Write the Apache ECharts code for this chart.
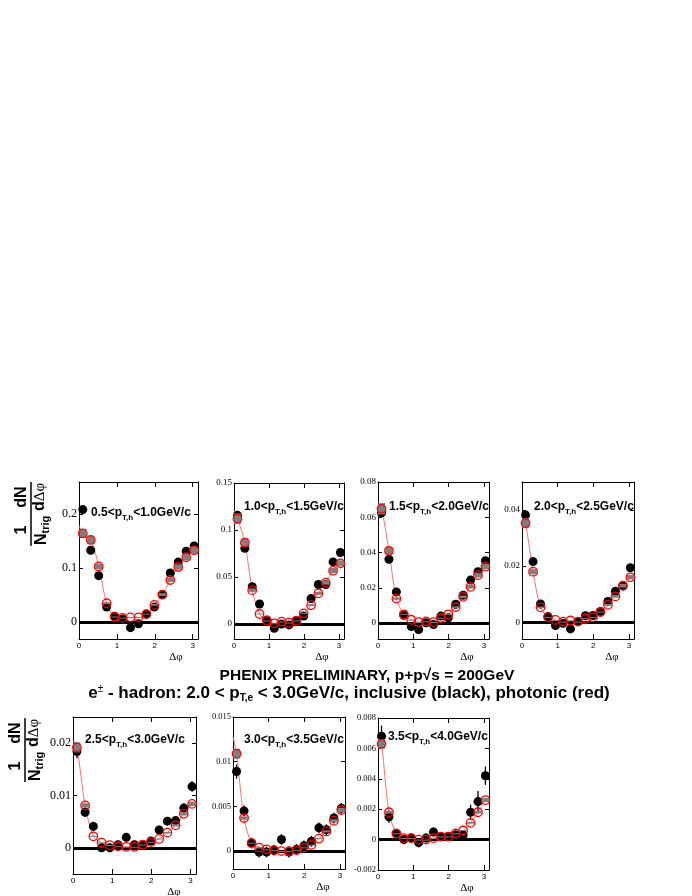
<!DOCTYPE html>
<html>
<head>
<meta charset="utf-8">
<script src="https://cdn.jsdelivr.net/npm/echarts@6/dist/echarts.min.js"></script>
<style>
  html, body { margin: 0; padding: 0; background: #fff; }
  #chart { width: 692px; height: 896px; }
</style>
</head>
<body>
<div id="chart"></div>
<script>
// delta-phi bin centres (15 bins over 0..pi)
const xBins = [0.10, 0.31, 0.52, 0.73, 0.94, 1.15, 1.36, 1.57, 1.78, 1.99, 2.20, 2.41, 2.62, 2.83, 3.04];

// trigger-hadron pT bins
const ptLow  = ['0.5', '1.0', '1.5', '2.0', '2.5', '3.0', '3.5'];
const ptHigh = ['1.0', '1.5', '2.0', '2.5', '3.0', '3.5', '4.0'];

// inclusive (black) yields
const incl1 = [0.208, 0.133, 0.086, 0.028, 0.011, 0.006, -0.010, -0.003, 0.015, 0.028, 0.051, 0.091, 0.111, 0.131, 0.141];
const incl2 = [0.1156, 0.0805, 0.0397, 0.0213, 0.0043, -0.0046, 0.0, -0.001, 0.0035, 0.0085, 0.027, 0.042, 0.042, 0.066, 0.076];
const incl3 = [0.0625, 0.0362, 0.0177, 0.0044, -0.0019, -0.0036, 0.0002, -0.0008, 0.004, 0.003, 0.0107, 0.0158, 0.0244, 0.0291, 0.0354];
const incl4 = [0.0382, 0.0216, 0.0065, 0.002, -0.0012, -0.0004, -0.0024, 0.0002, 0.0023, 0.0024, 0.0038, 0.0074, 0.011, 0.013, 0.0194];
const incl5 = [0.0184, 0.0068, 0.0041, 0.0, 0.0, 0.0006, 0.002, 0.0006, 0.0005, 0.0013, 0.0034, 0.0051, 0.0052, 0.0076, 0.0117];
const incl6 = [0.0089, 0.0045, 0.0009, -0.0001, -0.0001, 0.0001, 0.0013, -0.0001, 0.0002, 0.0006, 0.0011, 0.0026, 0.0024, 0.0037, 0.0048];
const incl7 = [0.0068, 0.0015, 0.0004, 0.0, 0.0001, -0.0002, 0.0001, 0.0005, 0.0002, 0.0002, 0.0003, 0.0003, 0.0018, 0.0025, 0.0042];

// inclusive stat errors
const inclErr1 = [0.004, 0.004, 0.004, 0.004, 0.004, 0.004, 0.004, 0.004, 0.004, 0.004, 0.004, 0.004, 0.004, 0.004, 0.004];
const inclErr2 = [0.003, 0.003, 0.003, 0.0025, 0.0025, 0.0025, 0.0025, 0.0025, 0.0025, 0.0025, 0.003, 0.003, 0.003, 0.003, 0.003];
const inclErr3 = [0.002, 0.002, 0.0015, 0.0015, 0.0015, 0.0015, 0.0015, 0.0015, 0.0015, 0.0015, 0.0015, 0.0015, 0.0015, 0.0015, 0.002];
const inclErr4 = [0.0012, 0.001, 0.001, 0.0009, 0.0009, 0.0009, 0.0009, 0.0009, 0.0009, 0.0009, 0.0009, 0.0009, 0.001, 0.001, 0.0012];
const inclErr5 = [0.0013, 0.0009, 0.0009, 0.0008, 0.0008, 0.0008, 0.0008, 0.0008, 0.0008, 0.0008, 0.0008, 0.0008, 0.0008, 0.0009, 0.001];
const inclErr6 = [0.0008, 0.0006, 0.0006, 0.0006, 0.0006, 0.0006, 0.0006, 0.0006, 0.0006, 0.0006, 0.0006, 0.0006, 0.0006, 0.0006, 0.0006];
const inclErr7 = [0.0007, 0.0004, 0.0003, 0.0003, 0.0003, 0.0003, 0.0003, 0.0003, 0.0003, 0.0003, 0.0003, 0.0003, 0.0005, 0.0007, 0.0006];

// photonic (red) yields
const phot1 = [0.164, 0.152, 0.103, 0.035, 0.010, 0.008, 0.009, 0.009, 0.015, 0.032, 0.051, 0.078, 0.102, 0.120, 0.133];
const phot2 = [0.112, 0.0865, 0.036, 0.0106, 0.0035, 0.0007, 0.0025, 0.0014, 0.0035, 0.0113, 0.020, 0.0326, 0.044, 0.0567, 0.0645];
const phot3 = [0.0648, 0.041, 0.0139, 0.005, 0.0019, 0.0006, 0.001, 0.0006, 0.0029, 0.005, 0.0091, 0.0149, 0.0206, 0.0272, 0.032];
const phot4 = [0.0353, 0.018, 0.0053, 0.0018, 0.0008, 0.0002, 0.0006, 0.0002, 0.0014, 0.0018, 0.0036, 0.0062, 0.0092, 0.013, 0.016];
const phot5 = [0.0192, 0.0081, 0.0022, 0.001, 0.0005, 0.0003, 0.0002, 0.0002, 0.0006, 0.0011, 0.0017, 0.0029, 0.0043, 0.0065, 0.0084];
const phot6 = [0.0109, 0.0037, 0.0009, 0.0004, 0.0002, 0.0001, 0.0, 0.0, 0.0001, 0.0004, 0.0007, 0.0014, 0.0022, 0.0034, 0.0046];
const phot7 = [0.0063, 0.0018, 0.0004, 0.0001, 0.0001, 0.0, 0.0, 0.0001, 0.0002, 0.0002, 0.0004, 0.0006, 0.0011, 0.0018, 0.0026];
// relative systematic on photonic (grey boxes), estimated
const photSysFrac = 0.05;

// value of the red fit curve at delta-phi = 0
const fitAtZero = [0.179, 0.121, 0.067, 0.039, 0.0206, 0.0128, 0.007];

// y tick labels per panel
const yTicks = [
  [0, 0.1, 0.2],
  [0, 0.05, 0.1, 0.15],
  [0, 0.02, 0.04, 0.06, 0.08],
  [0, 0.02, 0.04],
  [0, 0.01, 0.02],
  [0, 0.005, 0.01, 0.015],
  [-0.002, 0, 0.002, 0.004, 0.006, 0.008]
];
const xTicks = [0, 1, 2, 3];

const inclAll = [incl1, incl2, incl3, incl4, incl5, incl6, incl7];
const errAll = [inclErr1, inclErr2, inclErr3, inclErr4, inclErr5, inclErr6, inclErr7];
const photAll = [phot1, phot2, phot3, phot4, phot5, phot6, phot7];

// pad layout (pixels) and axis ranges
const pads = [
  { left: 79,  top: 482, width: 119, height: 157, ymin: -0.031, ymax: 0.259, fs: 12 },
  { left: 234, top: 483, width: 110, height: 156, ymin: -0.016, ymax: 0.15,  fs: 9 },
  { left: 378, top: 482, width: 111, height: 157, ymin: -0.009, ymax: 0.08,  fs: 9 },
  { left: 522, top: 482, width: 112, height: 157, ymin: -0.006, ymax: 0.05,  fs: 9 },
  { left: 73,  top: 717, width: 123, height: 157, ymin: -0.005, ymax: 0.025, fs: 12 },
  { left: 233, top: 717, width: 112, height: 152, ymin: -0.002, ymax: 0.015, fs: 8.5 },
  { left: 378, top: 718, width: 111, height: 152, ymin: -0.002, ymax: 0.008, fs: 8.5 }
];
const labelPos = [[91, 513], [244, 507], [389, 507], [534, 507], [85, 740], [244, 740], [388, 737]];

const fmt = v => String(parseFloat(v.toFixed(6)));

const chart = echarts.init(document.getElementById('chart'));

const grid = [], xAxis = [], yAxis = [], series = [], graphic = [];

pads.forEach((p, i) => {
  grid.push({ left: p.left, top: p.top, width: p.width, height: p.height, show: false });

  const line = { onZero: false, lineStyle: { color: '#000', width: 1 } };
  const xTick = { inside: true, length: 5, customValues: xTicks, lineStyle: { color: '#000' } };
  xAxis.push({
    gridIndex: i, type: 'value', min: 0, max: 3.1416, position: 'bottom',
    axisLine: line, axisTick: xTick, splitLine: { show: false },
    axisLabel: { customValues: xTicks, fontSize: 8, margin: 3, color: '#000', fontFamily: 'Liberation Sans' }
  });
  xAxis.push({
    gridIndex: i, type: 'value', min: 0, max: 3.1416, position: 'top',
    axisLine: line, axisTick: xTick, splitLine: { show: false }, axisLabel: { show: false }
  });
  const yTick = { inside: true, length: 4, customValues: yTicks[i], lineStyle: { color: '#000' } };
  yAxis.push({
    gridIndex: i, type: 'value', min: p.ymin, max: p.ymax, position: 'left',
    axisLine: line, axisTick: yTick, splitLine: { show: false },
    axisLabel: { customValues: yTicks[i], formatter: fmt, fontSize: p.fs, margin: 2, color: '#000', fontFamily: 'Liberation Serif' }
  });
  yAxis.push({
    gridIndex: i, type: 'value', min: p.ymin, max: p.ymax, position: 'right',
    axisLine: line, axisTick: yTick, splitLine: { show: false }, axisLabel: { show: false }
  });

  const xi = 2 * i, yi = 2 * i;
  const incl = inclAll[i], err = errAll[i], phot = photAll[i];

  // red fit curve, plus the thick zero line
  series.push({
    type: 'line', xAxisIndex: xi, yAxisIndex: yi, z: 1,
    data: [[0, fitAtZero[i]]].concat(xBins.map((x, k) => [x, phot[k]])),
    smooth: 0.3, showSymbol: false, symbol: 'none',
    lineStyle: { color: '#ff7070', width: 1 },
    markLine: {
      silent: true, symbol: 'none', label: { show: false },
      lineStyle: { color: '#000', width: 3, type: 'solid' },
      data: [{ yAxis: 0 }]
    }
  });
  // inclusive error bars
  series.push({
    type: 'custom', xAxisIndex: xi, yAxisIndex: yi, z: 3, clip: true,
    data: xBins.map((x, k) => [x, incl[k], err[k]]),
    renderItem: (params, api) => {
      const a = api.coord([api.value(0), api.value(1) - api.value(2)]);
      const b = api.coord([api.value(0), api.value(1) + api.value(2)]);
      return { type: 'line', shape: { x1: a[0], y1: a[1], x2: b[0], y2: b[1] }, style: { stroke: '#000', lineWidth: 1.3 } };
    }
  });
  // inclusive points
  series.push({
    type: 'scatter', xAxisIndex: xi, yAxisIndex: yi, z: 4,
    data: xBins.map((x, k) => [x, incl[k]]),
    symbol: 'circle', symbolSize: 9, itemStyle: { color: '#000', opacity: 1 }
  });
  // photonic systematic boxes
  series.push({
    type: 'custom', xAxisIndex: xi, yAxisIndex: yi, z: 5, clip: true,
    data: xBins.map((x, k) => [x, phot[k]]),
    renderItem: (params, api) => {
      const v = api.value(1), s = Math.abs(v) * photSysFrac;
      const a = api.coord([api.value(0), v + s]);
      const b = api.coord([api.value(0), v - s]);
      return { type: 'rect', shape: { x: a[0] - 3.5, y: a[1], width: 7, height: Math.max(b[1] - a[1], 1) }, style: { fill: '#7f7f7f' } };
    }
  });
  // photonic points
  series.push({
    type: 'scatter', xAxisIndex: xi, yAxisIndex: yi, z: 6,
    data: xBins.map((x, k) => [x, phot[k]]),
    symbol: 'circle', symbolSize: 8.5,
    itemStyle: { color: 'rgba(0,0,0,0)', borderColor: '#ff0000', borderWidth: 1.3, opacity: 1 }
  });

  // pad label
  graphic.push({
    type: 'text', x: labelPos[i][0], y: labelPos[i][1],
    style: {
      text: '{m|' + ptLow[i] + '<p}{s|T,h}{m|<' + ptHigh[i] + 'GeV/c}',
      verticalAlign: 'middle',
      rich: {
        m: { fontFamily: 'Liberation Sans', fontWeight: 'bold', fontSize: 12, fill: '#000' },
        s: { fontFamily: 'Liberation Sans', fontWeight: 'bold', fontSize: 8, fill: '#000', padding: [9, 0, 0, 0] }
      }
    }
  });
  // delta-phi axis title
  graphic.push({
    type: 'text', x: p.left + p.width - 22, y: p.top + p.height + 18,
    style: { text: 'Δφ', font: '11px Liberation Serif', fill: '#000', align: 'center', verticalAlign: 'middle' }
  });
});

// rotated y title: (1/N_trig)(dN/dΔφ)
function yTitle(x, y) {
  const big = { fontFamily: 'Liberation Sans', fontWeight: 'bold', fontSize: 16, fill: '#000' };
  return {
    type: 'group', x: x, y: y, rotation: Math.PI / 2,
    children: [
      { type: 'line', shape: { x1: 0, y1: 0, x2: 64, y2: 0 }, style: { stroke: '#000', lineWidth: 1.5 } },
      { type: 'text', x: 16, y: -1, style: { text: '1', font: 'bold 16px Liberation Sans', fill: '#000', align: 'center', verticalAlign: 'bottom' } },
      { type: 'text', x: 1, y: 1, style: {
          text: '{b|N}{s|trig}', verticalAlign: 'top',
          rich: { b: big, s: { fontFamily: 'Liberation Sans', fontWeight: 'bold', fontSize: 11, fill: '#000', padding: [8, 0, 0, 0] } }
      } },
      { type: 'text', x: 49, y: -1, style: { text: 'dN', font: 'bold 16px Liberation Sans', fill: '#000', align: 'center', verticalAlign: 'bottom' } },
      { type: 'text', x: 35, y: 1, style: {
          text: '{b|d}{g|Δφ}', verticalAlign: 'top',
          rich: { b: big, g: { fontFamily: 'Liberation Serif', fontSize: 15, fill: '#000' } }
      } }
    ]
  };
}
graphic.push(yTitle(31, 546));
graphic.push(yTitle(25, 782));

// headline
graphic.push({
  type: 'text', x: 367, y: 676,
  style: { text: 'PHENIX PRELIMINARY, p+p√s = 200GeV', font: 'bold 15.5px Liberation Sans', fill: '#000', align: 'center', verticalAlign: 'middle' }
});
graphic.push({
  type: 'text', x: 349, y: 693,
  style: {
    text: '{m|e}{p|±}{m| - hadron: 2.0 < p}{s|T,e}{m| < 3.0GeV/c, inclusive (black), photonic (red)}',
    align: 'center', verticalAlign: 'middle',
    rich: {
      m: { fontFamily: 'Liberation Sans', fontWeight: 'bold', fontSize: 17, fill: '#000' },
      p: { fontFamily: 'Liberation Sans', fontSize: 10, fill: '#000', padding: [0, 0, 8, 0] },
      s: { fontFamily: 'Liberation Sans', fontWeight: 'bold', fontSize: 10, fill: '#000', padding: [11, 0, 0, 0] }
    }
  }
});

chart.setOption({
  animation: false,
  backgroundColor: '#fff',
  grid: grid,
  xAxis: xAxis,
  yAxis: yAxis,
  series: series,
  graphic: graphic
});
</script>
</body>
</html>
